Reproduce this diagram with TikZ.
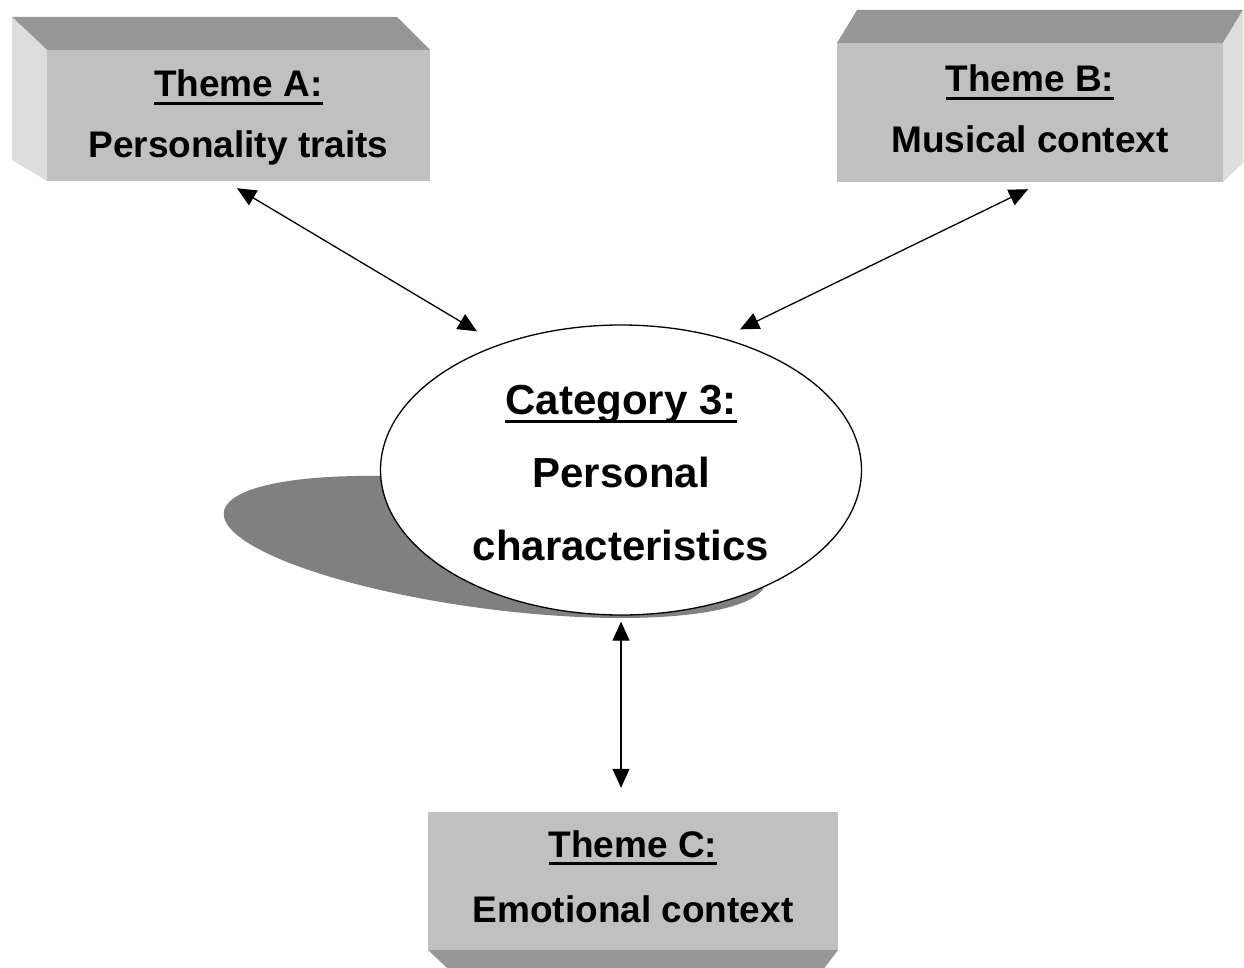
\documentclass[tikz,border=0pt]{standalone}
\usepackage{fontspec}
\setmainfont{Liberation Sans}
\usetikzlibrary{arrows.meta,shapes.geometric}

\definecolor{facegray}{HTML}{C0C0C0}
\definecolor{topgray}{HTML}{969696}
\definecolor{sidegray}{HTML}{DDDDDD}
\definecolor{shadowgray}{HTML}{808080}

% underline drawn as a rule just below the baseline
\newcommand\undl[1]{\setbox0\hbox{#1}\rlap{\rule[-0.22em]{\wd0}{0.075em}}\box0}

\begin{document}
\begin{tikzpicture}[x=1pt,y=-1pt,
  face/.style={fill=facegray, draw=none, inner sep=0pt},
  topface/.style={fill=topgray, draw=none},
  sideface/.style={fill=sidegray, draw=none},
  themetext/.style={anchor=base, inner sep=0pt, font=\fontsize{37}{#1}\selectfont\bfseries},
  cattext/.style={anchor=base, inner sep=0pt, font=\fontsize{42}{73}\selectfont\bfseries},
  biarrow/.style={line width=1.3pt, {Triangle[length=19pt,width=17pt]}-{Triangle[length=19pt,width=17pt]}}
]
\useasboundingbox (0,0) rectangle (1244,968);
\fill[white] (0,0) rectangle (1244,968);
\clip (0,0) rectangle (1244,968);
\setlength{\tabcolsep}{0pt}

% shadow cast by the central ellipse
\fill[shadowgray] plot[domain=0:360, samples=160, variable=\t]
  ({494.85+240*cos(\t)+126.15*sin(\t)}, {546.95+71.05*sin(\t)}) -- cycle;

% central ellipse
\node[ellipse, draw=black, line width=1.3pt, fill=white, inner sep=0pt,
      minimum width=481pt, minimum height=290pt] (cat) at (621,470) {};
\node[cattext] (cattxt) at (621,414)
  {\begin{tabular}[t]{c}\undl{Category 3:}\\Personal\\characteristics\end{tabular}};

% theme A block
\fill[topface] (12,17) -- (397,17) -- (430,50) -- (47,50) -- cycle;
\fill[sideface] (12,17) -- (47,50) -- (47,181) -- (12,160) -- cycle;
\node[face, minimum width=383pt, minimum height=131pt] (A) at (238.5,115.5) {};
\node[themetext=61] (Atxt) at (238.5,97)
  {\begin{tabular}[t]{c}\undl{Theme A:}\\Personality traits\end{tabular}};

% theme B block
\fill[topface] (857,10) -- (1243,10) -- (1223,43) -- (837,43) -- cycle;
\fill[sideface] (1223,43) -- (1243,10) -- (1243,163) -- (1223,182) -- cycle;
\node[face, minimum width=386pt, minimum height=139pt] (B) at (1030,112.5) {};
\node[themetext=61] (Btxt) at (1030,92)
  {\begin{tabular}[t]{c}\undl{Theme B:}\\Musical context\end{tabular}};

% theme C block
\fill[topface] (428,950) -- (838,950) -- (813,983) -- (463,983) -- cycle;
\node[face, minimum width=410pt, minimum height=138pt] (C) at (633,881) {};
\node[themetext=65] (Ctxt) at (633,857)
  {\begin{tabular}[t]{c}\undl{Theme C:}\\Emotional context\end{tabular}};

% arrow end points
\coordinate (A-out) at ([xshift=-1.5pt,yshift=-7pt]A.south);
\coordinate (B-out) at ([xshift=-2pt,yshift=-7pt]B.south);
\coordinate (C-out) at ([xshift=-12pt,yshift=24pt]C.north);
\coordinate (cat-a) at ([xshift=-144pt,yshift=-7pt]cat.north);
\coordinate (cat-b) at ([xshift=119pt,yshift=-5pt]cat.north);
\coordinate (cat-c) at ([yshift=-6pt]cat.south);

\draw[biarrow] (A-out) -- (cat-a);
\draw[biarrow] (B-out) -- (cat-b);
\draw[biarrow] (cat-c) -- (C-out);
\end{tikzpicture}
\end{document}
